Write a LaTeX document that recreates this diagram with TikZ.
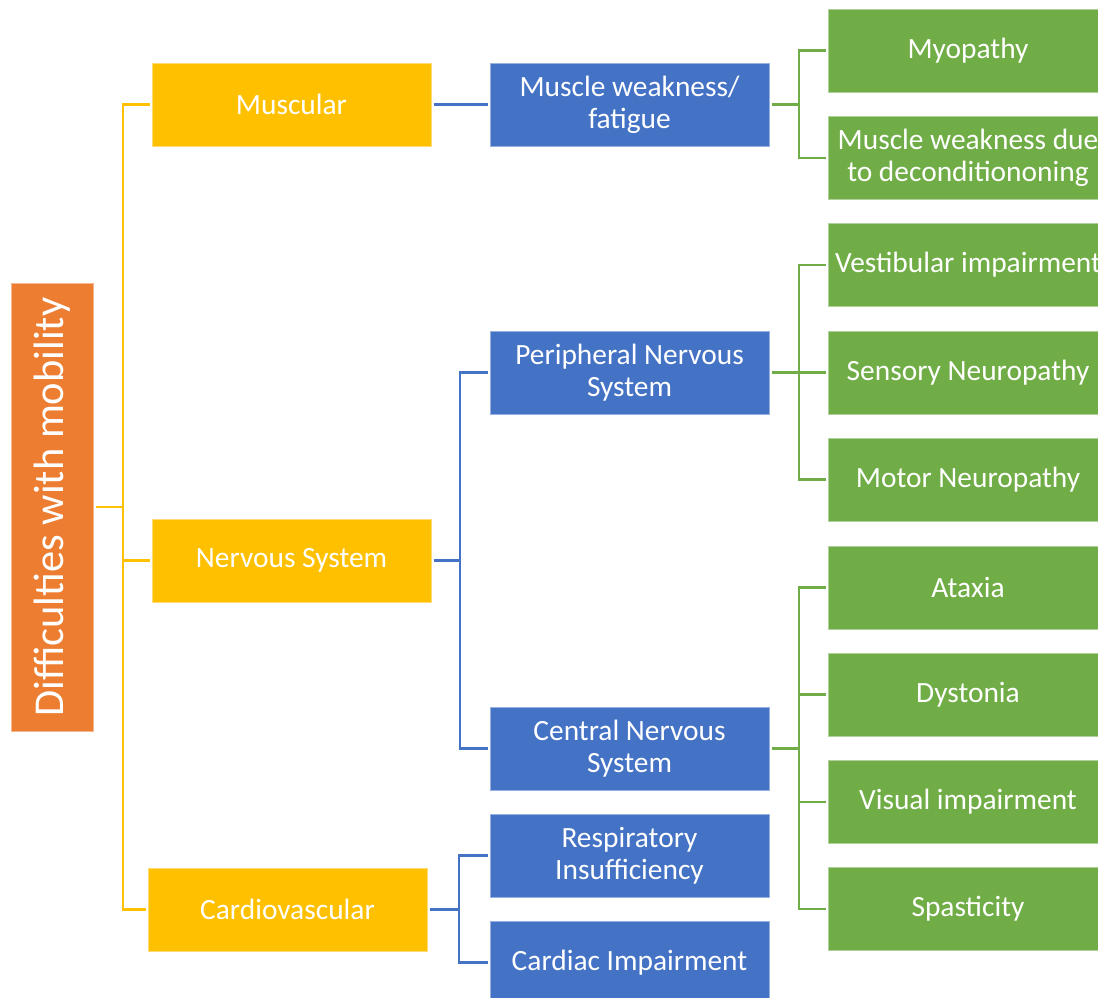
\documentclass[tikz,border=0pt]{standalone}
\usepackage{fontspec}
\setmainfont{Carlito}
\definecolor{cOrange}{HTML}{ED7D31}
\definecolor{cYellow}{HTML}{FFC000}
\definecolor{cBlue}{HTML}{4472C4}
\definecolor{cGreen}{HTML}{70AD47}
\tikzset{
  box/.style={rectangle, minimum width=279pt, minimum height=83pt, inner sep=0pt,
    outer sep=2.5pt, text=white, align=center, font=\fontsize{29.4}{32}\selectfont},
  ybox/.style={box, fill=cYellow, draw=cYellow!55!white, line width=0.8pt},
  bbox/.style={box, fill=cBlue, draw=cBlue!55!white, line width=0.8pt},
  gbox/.style={box, fill=cGreen, draw=cGreen!55!white, line width=0.8pt, minimum width=280pt},
  rootbox/.style={rectangle, fill=cOrange, draw=cOrange!55!white, line width=0.8pt,
    minimum width=448pt, minimum height=82pt, inner sep=0pt, outer sep=3pt,
    text=white, rotate=90, font=\fontsize{42.5}{50}\selectfont},
  yline/.style={draw=cYellow, line width=2.4pt},
  bline/.style={draw=cBlue, line width=2.4pt},
  gline/.style={draw=cGreen, line width=2.4pt},
}
\begin{document}
\begin{tikzpicture}[x=1pt, y=-1pt]
\useasboundingbox (0,0) rectangle (1098,998);
\clip (0,0) rectangle (1098,998);

% root
\node[rootbox] (root) at (52,507) {Difficulties with mobility};

% first level
\node[ybox] (mus)  at (291.5,104.5) {Muscular};
\node[ybox] (nerv) at (291.5,560.5) {Nervous System};
\node[ybox] (card) at (287.5,909.5) {Cardiovascular};

% second level
\node[bbox] (mwf)  at (629.5,104.5) {Muscle weakness/\\fatigue};
\node[bbox] (pns)  at (629.5,372.5) {Peripheral Nervous\\System};
\node[bbox] (cns)  at (629.5,748.5) {Central Nervous\\System};
\node[bbox] (resp) at (629.5,855.5) {Respiratory\\Insufficiency};
\node[bbox] (cimp) at (629.5,962.5) {Cardiac Impairment};

% third level
\node[gbox] (myo)  at (968,50.5)  {Myopathy};
\node[gbox] (mwd)  at (968,158)   {Muscle weakness due\\to deconditiononing};
\node[gbox] (vest) at (968,265)   {Vestibular impairment};
\node[gbox] (sens) at (968,372.5) {Sensory Neuropathy};
\node[gbox] (motn) at (968,479.5) {Motor Neuropathy};
\node[gbox] (atax) at (968,587.5) {Ataxia};
\node[gbox] (dyst) at (968,694.5) {Dystonia};
\node[gbox] (vis)  at (968,802)   {Visual impairment};
\node[gbox] (spas) at (968,909)   {Spasticity};

% bus points
\coordinate (yb)  at (123,507);
\coordinate (nb)  at (460,560.5);
\coordinate (cb)  at (459,909.5);
\coordinate (gb1) at (799,104.5);
\coordinate (gb2) at (799,372.5);
\coordinate (gb3) at (799,748.5);

% connectors
\draw[yline] (root.south) -- (yb);
\draw[yline] (yb) |- (mus.west);
\draw[yline] (yb) |- (nerv.west);
\draw[yline] (yb) |- (card.west);

\draw[bline] (mus.east) -- (mwf.west);
\draw[bline] (nerv.east) -- (nb);
\draw[bline] (nb) |- (pns.west);
\draw[bline] (nb) |- (cns.west);
\draw[bline] (card.east) -- (cb);
\draw[bline] (cb) |- (resp.west);
\draw[bline] (cb) |- (cimp.west);

\draw[gline] (mwf.east) -- (gb1);
\draw[gline] (gb1) |- (myo.west);
\draw[gline] (gb1) |- (mwd.west);
\draw[gline] (pns.east) -- (gb2);
\draw[gline] (gb2) |- (vest.west);
\draw[gline] (gb2) |- (sens.west);
\draw[gline] (gb2) |- (motn.west);
\draw[gline] (cns.east) -- (gb3);
\draw[gline] (gb3) |- (atax.west);
\draw[gline] (gb3) |- (dyst.west);
\draw[gline] (gb3) |- (vis.west);
\draw[gline] (gb3) |- (spas.west);
\end{tikzpicture}
\end{document}
